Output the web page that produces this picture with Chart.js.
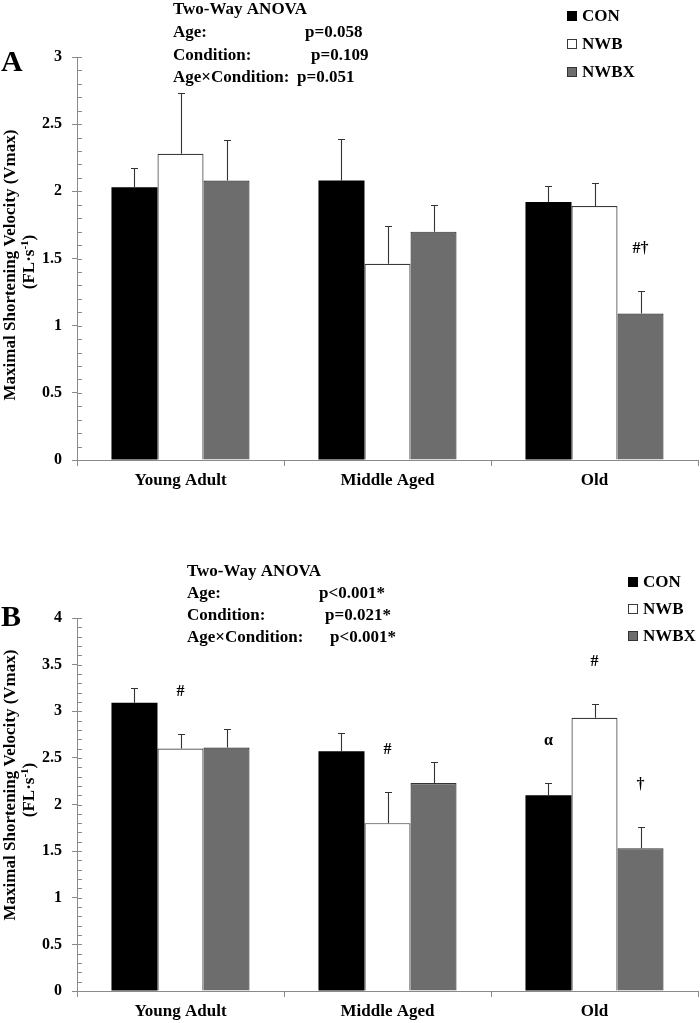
<!DOCTYPE html>
<html><head><meta charset="utf-8">
<script src="https://cdn.jsdelivr.net/npm/chart.js@4.4.0/dist/chart.umd.min.js"></script>
<style>
html,body{margin:0;padding:0;background:#fff;}
#wrap{position:relative;width:700px;height:1023px;overflow:hidden;background:#fff;}
canvas{position:absolute;left:0;}
</style></head><body>
<div id="wrap">
<canvas id="cA" width="700" height="495" style="top:0px"></canvas>
<canvas id="cB" width="700" height="528" style="top:495px"></canvas>
</div>
<script>
// ---------- DATA ----------
const categories = ['Young Adult', 'Middle Aged', 'Old'];
const seriesNames = ['CON', 'NWB', 'NWBX'];

// Panel A
const conA = [2.03, 2.08, 1.92];
const nwbA = [2.28, 1.46, 1.89];
const nwbxA = [2.08, 1.70, 1.09];
const conErrA = [0.14, 0.31, 0.12];
const nwbErrA = [0.45, 0.28, 0.17];
const nwbxErrA = [0.30, 0.20, 0.17];
const conMarksA = ['', '', ''];
const nwbMarksA = ['', '', ''];
const nwbxMarksA = ['', '', '#†'];
const yMaxA = 3;
const anovaLabelsA = ['Two-Way ANOVA', 'Age:', 'Condition:', 'Age×Condition:'];
const anovaPA = ['', 'p=0.058', 'p=0.109', 'p=0.051'];

// Panel B
const conB = [3.09, 2.57, 2.10];
const nwbB = [2.60, 1.80, 2.93];
const nwbxB = [2.61, 2.23, 1.53];
const conErrB = [0.16, 0.20, 0.13];
const nwbErrB = [0.16, 0.33, 0.15];
const nwbxErrB = [0.20, 0.23, 0.23];
const conMarksB = ['', '', 'α'];
const nwbMarksB = ['#', '#', '#'];
const nwbxMarksB = ['', '', '†'];
const yMaxB = 4;
const anovaLabelsB = ['Two-Way ANOVA', 'Age:', 'Condition:', 'Age×Condition:'];
const anovaPB = ['', 'p<0.001*', 'p=0.021*', 'p<0.001*'];

const yTitle1 = 'Maximal Shortening Velocity (Vmax)';
const yTitle2Parts = ['(FL·s', '-1', ')'];

// ---------- STYLE ----------
const FONT = '"Liberation Serif", "Times New Roman", serif';
const fills = ['#000000', '#ffffff', '#6d6d6d'];
const borders = ['#000000', '#3a3a3a', '#333333'];
const AXIS = '#8a8a8a';

const errorBarPlugin = {
  id: 'errorBars',
  afterDatasetsDraw(chart) {
    const ctx = chart.ctx, ys = chart.scales.y;
    ctx.save();
    ctx.strokeStyle = '#333';
    ctx.lineWidth = 1.1;
    chart.data.datasets.forEach((ds, d) => {
      const meta = chart.getDatasetMeta(d);
      meta.data.forEach((el, i) => {
        const x = Math.round(el.x) + 0.5;
        const yTop = el.y;
        const yE = Math.round(ys.getPixelForValue(ds.data[i] + ds.errors[i])) + 0.5;
        ctx.beginPath();
        ctx.moveTo(x, yTop); ctx.lineTo(x, yE);
        ctx.moveTo(x - 3.5, yE); ctx.lineTo(x + 3.5, yE);
        ctx.stroke();
        const m = ds.marks[i];
        if (m) {
          ctx.fillStyle = '#000';
          ctx.font = 'bold 16px ' + FONT;
          ctx.textAlign = 'center';
          ctx.textBaseline = 'middle';
          ctx.fillText(m, el.x, yE - 43);
        }
      });
    });
    ctx.restore();
  }
};

const minorTickPlugin = {
  id: 'minorTicks',
  afterDraw(chart) {
    const ctx = chart.ctx, ys = chart.scales.y;
    const x0 = chart.chartArea.left;
    ctx.save();
    ctx.strokeStyle = AXIS;
    ctx.lineWidth = 1;
    const n = Math.round(ys.max * 10);
    for (let i = 0; i <= n; i++) {
      const y = Math.round(ys.getPixelForValue(i / 10)) + 0.5;
      ctx.beginPath();
      ctx.moveTo(x0, y); ctx.lineTo(x0 + 5, y);
      ctx.stroke();
    }
    ctx.restore();
  }
};

function textPlugin(cfg) {
  return {
    id: 'texts',
    afterDraw(chart) {
      const ctx = chart.ctx, off = cfg.offset;
      ctx.save();
      ctx.fillStyle = '#000';
      // panel letter
      ctx.font = 'bold 30px ' + FONT;
      ctx.textAlign = 'left'; ctx.textBaseline = 'middle';
      ctx.fillText(cfg.letter, 1, cfg.letterY - off);
      // ANOVA block
      ctx.font = 'bold 17px ' + FONT;
      cfg.anovaLabels.forEach((t, i) => {
        ctx.fillText(t, cfg.anovaX, cfg.anovaY[i] - off);
        if (cfg.anovaP[i]) ctx.fillText(cfg.anovaP[i], cfg.anovaPX[i], cfg.anovaY[i] - off);
      });
      // legend
      seriesNames.forEach((name, i) => {
        const y = cfg.legY[i] - off;
        ctx.fillStyle = fills[i];
        ctx.fillRect(cfg.legX, y - 5, 10, 10);
        ctx.strokeStyle = borders[i]; ctx.lineWidth = 1;
        ctx.strokeRect(cfg.legX + 0.5, y - 4.5, 9, 9);
        ctx.fillStyle = '#000';
        ctx.font = 'bold 17px ' + FONT;
        ctx.fillText(name, cfg.legX + 15, y + 1);
      });
      // y title line 1
      ctx.font = 'bold 17px ' + FONT;
      ctx.textAlign = 'center';
      ctx.save();
      ctx.translate(11, cfg.titleY1 - off); ctx.rotate(-Math.PI / 2);
      ctx.fillText(yTitle1, 0, 0); ctx.restore();
      // y title line 2 with superscript
      ctx.save();
      ctx.translate(30, cfg.titleY2 - off); ctx.rotate(-Math.PI / 2);
      ctx.textAlign = 'left';
      const big = 'bold 17px ' + FONT, small = 'bold 11px ' + FONT;
      ctx.font = big; const w0 = ctx.measureText(yTitle2Parts[0]).width;
      const w2 = ctx.measureText(yTitle2Parts[2]).width;
      ctx.font = small; const w1 = ctx.measureText(yTitle2Parts[1]).width;
      let x = -(w0 + w1 + w2) / 2;
      ctx.font = big; ctx.fillText(yTitle2Parts[0], x, 0); x += w0;
      ctx.font = small; ctx.fillText(yTitle2Parts[1], x, -5); x += w1;
      ctx.font = big; ctx.fillText(yTitle2Parts[2], x, 0);
      ctx.restore();
      ctx.restore();
    }
  };
}

function makeChart(id, vals, errs, marks, yMax, canvasH, top, bottom, tcfg) {
  const datasets = seriesNames.map((n, i) => ({
    label: n,
    data: vals[i],
    errors: errs[i],
    marks: marks[i],
    backgroundColor: fills[i],
    borderColor: borders[i],
    borderWidth: i === 0 ? 0 : 1.2,
    categoryPercentage: 0.667,
    barPercentage: 1.0
  }));
  return new Chart(document.getElementById(id), {
    type: 'bar',
    data: { labels: categories, datasets },
    plugins: [errorBarPlugin, minorTickPlugin, textPlugin(tcfg)],
    options: {
      responsive: false, animation: false, devicePixelRatio: 1,
      layout: { padding: { top: top, right: 2, left: 0, bottom: 0 } },
      plugins: { legend: { display: false }, tooltip: { enabled: false }, title: { display: false } },
      scales: {
        x: {
          afterFit: s => { s.height = canvasH - bottom; },
          grid: { display: true, offset: true, drawOnChartArea: false, tickLength: 6, color: AXIS },
          border: { color: AXIS, width: 1 },
          ticks: { color: '#000', font: { family: FONT, size: 17, weight: 'bold' }, padding: 4 }
        },
        y: {
          min: 0, max: yMax,
          afterFit: s => { s.width = 77; },
          grid: { display: true, drawOnChartArea: false, tickLength: 5, color: AXIS },
          border: { color: AXIS, width: 1 },
          ticks: {
            stepSize: 0.5, color: '#000', font: { family: FONT, size: 16, weight: 'bold' }, padding: 10,
            callback: v => String(Math.round(v * 10) / 10)
          }
        }
      }
    }
  });
}

makeChart('cA', [conA, nwbA, nwbxA], [conErrA, nwbErrA, nwbxErrA], [conMarksA, nwbMarksA, nwbxMarksA],
  yMaxA, 495, 57, 460, {
    offset: 0, letter: 'A', letterY: 63,
    anovaX: 173, anovaY: [10, 33, 55.5, 78], anovaPX: [0, 305, 311, 297], anovaLabels: anovaLabelsA, anovaP: anovaPA,
    legX: 567, legY: [16, 44, 72],
    titleY1: 265, titleY2: 262
  });

makeChart('cB', [conB, nwbB, nwbxB], [conErrB, nwbErrB, nwbxErrB], [conMarksB, nwbMarksB, nwbxMarksB],
  yMaxB, 528, 618 - 495, 991 - 495, {
    offset: 495, letter: 'B', letterY: 618,
    anovaX: 187, anovaY: [572, 594, 616, 638], anovaPX: [0, 319, 325, 330], anovaLabels: anovaLabelsB, anovaP: anovaPB,
    legX: 628, legY: [582, 609, 636],
    titleY1: 785, titleY2: 790
  });
</script>
</body></html>
